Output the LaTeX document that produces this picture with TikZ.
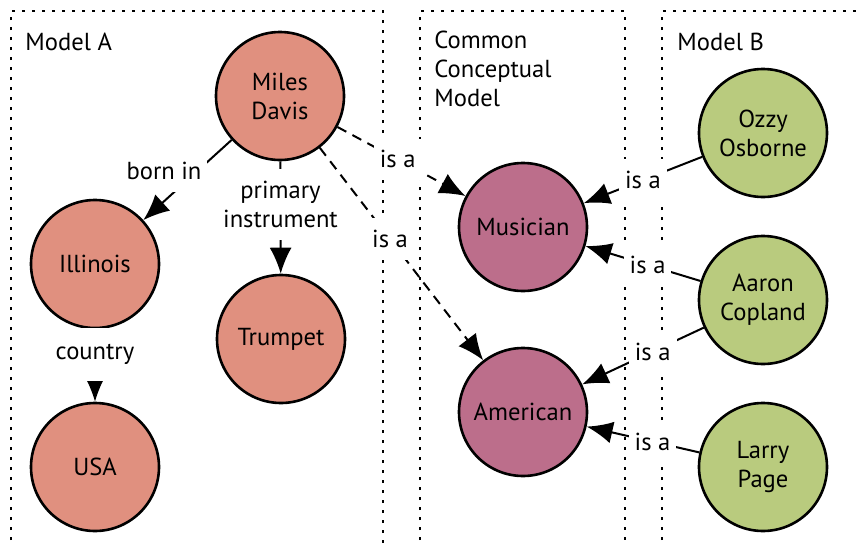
\documentclass[tikz,border=0pt]{standalone}
\usepackage{fontspec}
\setmainfont{PT Sans}
\usetikzlibrary{arrows.meta}
\definecolor{salmon}{HTML}{E0907F}
\definecolor{mauve}{HTML}{BC6E8B}
\definecolor{olive}{HTML}{B9CB7E}
\begin{document}
\begin{tikzpicture}[x=0.5pt,y=-0.5pt,
  font=\fontsize{12.3}{14.5}\selectfont,
  concept/.style={circle, draw, line width=1.3pt, minimum size=64pt, inner sep=0pt, align=center},
  modela/.style={concept, fill=salmon},
  common/.style={concept, fill=mauve},
  modelb/.style={concept, fill=olive},
  rel/.style={line width=1pt, -{Latex[length=13pt,width=11pt]}},
  isa/.style={rel, dash pattern=on 5pt off 3.5pt},
  lbl/.style={fill=white, inner xsep=3pt, inner ysep=6pt, align=center},
  frame/.style={line width=1.2pt, dash pattern=on 1.4pt off 3.6pt},
  title/.style={anchor=base west, inner sep=0pt, align=left}]
\useasboundingbox (0,0) rectangle (859,547);
\clip (0,0) rectangle (859,547);

% model frames, open at the bottom
\draw[frame] (11,560) -- (11,11) -- (383,11) -- (383,560);
\draw[frame] (420,560) -- (420,11) -- (625,11) -- (625,560);
\draw[frame] (662,560) -- (662,11) -- (870,11);

% frame titles (base west of a multi-line node is its last baseline)
\node[title] (ta) at (25,50) {Model A};
\node[title] (tc) at (434,106) {Common\\Conceptual\\Model};
\node[title] (tb) at (677,50) {Model B};

% Model A
\node[modela] (miles) at (280,96) {Miles\\Davis};
\node[modela] (illinois) at (95,264) {Illinois};
\node[modela] (trumpet) at (281,339) {Trumpet};
\node[modela] (usa) at (95,467) {USA};

% common conceptual model
\node[common] (musician) at (523,227) {Musician};
\node[common] (american) at (523,412) {American};

% Model B
\node[modelb] (ozzy) at (763,133) {Ozzy\\Osborne};
\node[modelb] (aaron) at (763,300) {Aaron\\Copland};
\node[modelb] (larry) at (763,467) {Larry\\Page};

% relations
\draw[rel] (miles) -- node[lbl, xshift=-11.75pt, yshift=4.5pt] (lborn) {born in} (illinois);
\draw[rel] (miles) -- node[lbl, yshift=6.5pt] (lprim) {primary\\instrument} (trumpet);
\draw[rel] (illinois) -- node[lbl, inner ysep=8pt, yshift=5.5pt] (lcountry) {country} (usa);

\draw[isa] (miles) -- node[lbl, pos=0.47] (lm1) {is a} (musician);
\draw[isa] (miles) -- node[lbl, pos=0.43] (lm2) {is a} (american);

\draw[rel] (ozzy) -- node[lbl, pos=0.5] (lo1) {is a} (musician);
\draw[rel] (aaron) -- node[lbl, pos=0.46] (la1) {is a} (musician);
\draw[rel] (aaron) -- node[lbl, pos=0.42] (la2) {is a} (american);
\draw[rel] (larry) -- node[lbl, pos=0.415] (ll1) {is a} (american);
\end{tikzpicture}
\end{document}
